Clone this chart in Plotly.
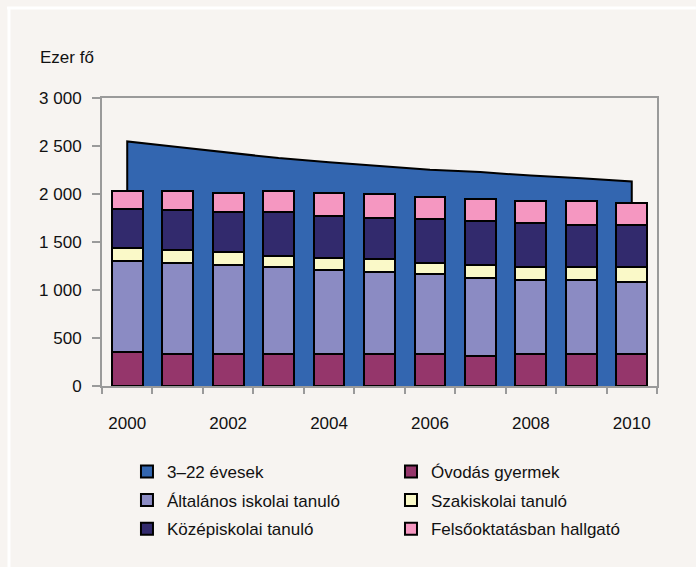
import plotly.graph_objects as go

# data (ezer fő)
years = [2000, 2001, 2002, 2003, 2004, 2005, 2006, 2007, 2008, 2009, 2010]
evesek_3_22 = [2547, 2489, 2432, 2374, 2332, 2294, 2252, 2228, 2192, 2165, 2130]
ovodas = [355, 338, 338, 338, 338, 338, 338, 317, 338, 338, 338]
altalanos = [947, 943, 922, 904, 867, 846, 825, 804, 765, 765, 748]
szakiskolai = [136, 139, 139, 115, 131, 139, 118, 139, 139, 139, 156]
kozepiskolai = [410, 417, 418, 460, 439, 431, 456, 459, 453, 436, 436]
felsooktatas = [185, 196, 198, 216, 240, 244, 236, 233, 236, 253, 232]

year_ticks = [2000, 2002, 2004, 2006, 2008, 2010]

FONT = 'Liberation Sans, Arial, sans-serif'
BG = '#F7F4F1'
AXIS = '#9A9A9A'

fig = go.Figure()

# area for 3-22 year olds, closed with vertical edges at both ends
area_x = [years[0]] + years + [years[-1]]
area_y = [0] + evesek_3_22 + [0]
fig.add_trace(go.Scatter(x=area_x, y=area_y, mode='lines', fill='tozeroy',
                         fillcolor='#3366B0', line=dict(color='black', width=2),
                         showlegend=False, hoverinfo='skip', xaxis='x', yaxis='y'))

# legend-only entry so the swatch looks like the bar ones
fig.add_trace(go.Bar(x=[None], y=[None], name='3–22 évesek', marker_color='#3366B0',
                     marker_line=dict(color='black', width=2), xaxis='x2', yaxis='y2',
                     legend='legend', legendgroup='a', legendrank=1))

# (name, values, colour, legend column, rank)
series = [
    ('Óvodás gyermek', ovodas, '#95366B', 'legend2', 1),
    ('Általános iskolai tanuló', altalanos, '#8B8BC3', 'legend', 2),
    ('Szakiskolai tanuló', szakiskolai, '#FAF9C8', 'legend2', 2),
    ('Középiskolai tanuló', kozepiskolai, '#322A6D', 'legend', 3),
    ('Felsőoktatásban hallgató', felsooktatas, '#F597C1', 'legend2', 3),
]
for name, vals, col, leg, rank in series:
    fig.add_trace(go.Bar(x=years, y=vals, name=name, width=0.61, marker_color=col,
                         marker_line=dict(color='black', width=2), xaxis='x2', yaxis='y2',
                         legend=leg, legendgroup=name, legendrank=rank))

legend_style = dict(orientation='v', yanchor='top', xanchor='left', y=-0.236,
                    traceorder='grouped', tracegroupgap=3.5,
                    font=dict(size=17), bgcolor='rgba(0,0,0,0)')

fig.update_layout(
    width=696, height=567,
    margin=dict(l=102, r=39, t=98, b=181),
    paper_bgcolor=BG, plot_bgcolor=BG,
    font=dict(family=FONT, size=17, color='#111111'),
    barmode='stack',
    separators=', ',
    xaxis=dict(range=[1999.5, 2010.5], tickvals=year_ticks, ticks='',
               showline=True, linecolor=AXIS, linewidth=2, mirror=True,
               showgrid=False, zeroline=False, ticklabelstandoff=21,
               minor=dict(tick0=1999.5, dtick=1, ticks='outside', ticklen=6,
                          tickcolor=AXIS, tickwidth=2, showgrid=False)),
    yaxis=dict(range=[0, 3000], tickvals=[0, 500, 1000, 1500, 2000, 2500, 3000],
               tickformat=',d', ticks='outside', ticklen=8, tickwidth=2, tickcolor=AXIS,
               showline=True, linecolor=AXIS, linewidth=2, mirror=True,
               showgrid=False, zeroline=False, ticklabelstandoff=7),
    xaxis2=dict(range=[1999.5, 2010.5], overlaying='x', visible=False),
    yaxis2=dict(range=[0, 3000], overlaying='y', visible=False),
    legend=dict(x=0.045, **legend_style),
    legend2=dict(x=0.5207, **legend_style),
    annotations=[dict(text='Ezer fő', xref='paper', yref='paper', x=-0.1153, y=1.142,
                      xanchor='left', yanchor='middle', showarrow=False,
                      font=dict(size=17))],
    # thin white frame near the top-left corner of the picture
    shapes=[
        dict(type='line', xref='paper', yref='paper', x0=-0.171, x1=1.07, y0=1.3125, y1=1.3125,
             line=dict(color='white', width=3), layer='above'),
        dict(type='line', xref='paper', yref='paper', x0=-0.1676, x1=-0.1676, y0=1.316, y1=-0.63,
             line=dict(color='white', width=3), layer='above'),
    ],
)

# drop the default page margin so the figure sits at the window's corner
fig.write_html("out.html", config={'displayModeBar': False},
               post_script="document.body.style.margin='0px';")
